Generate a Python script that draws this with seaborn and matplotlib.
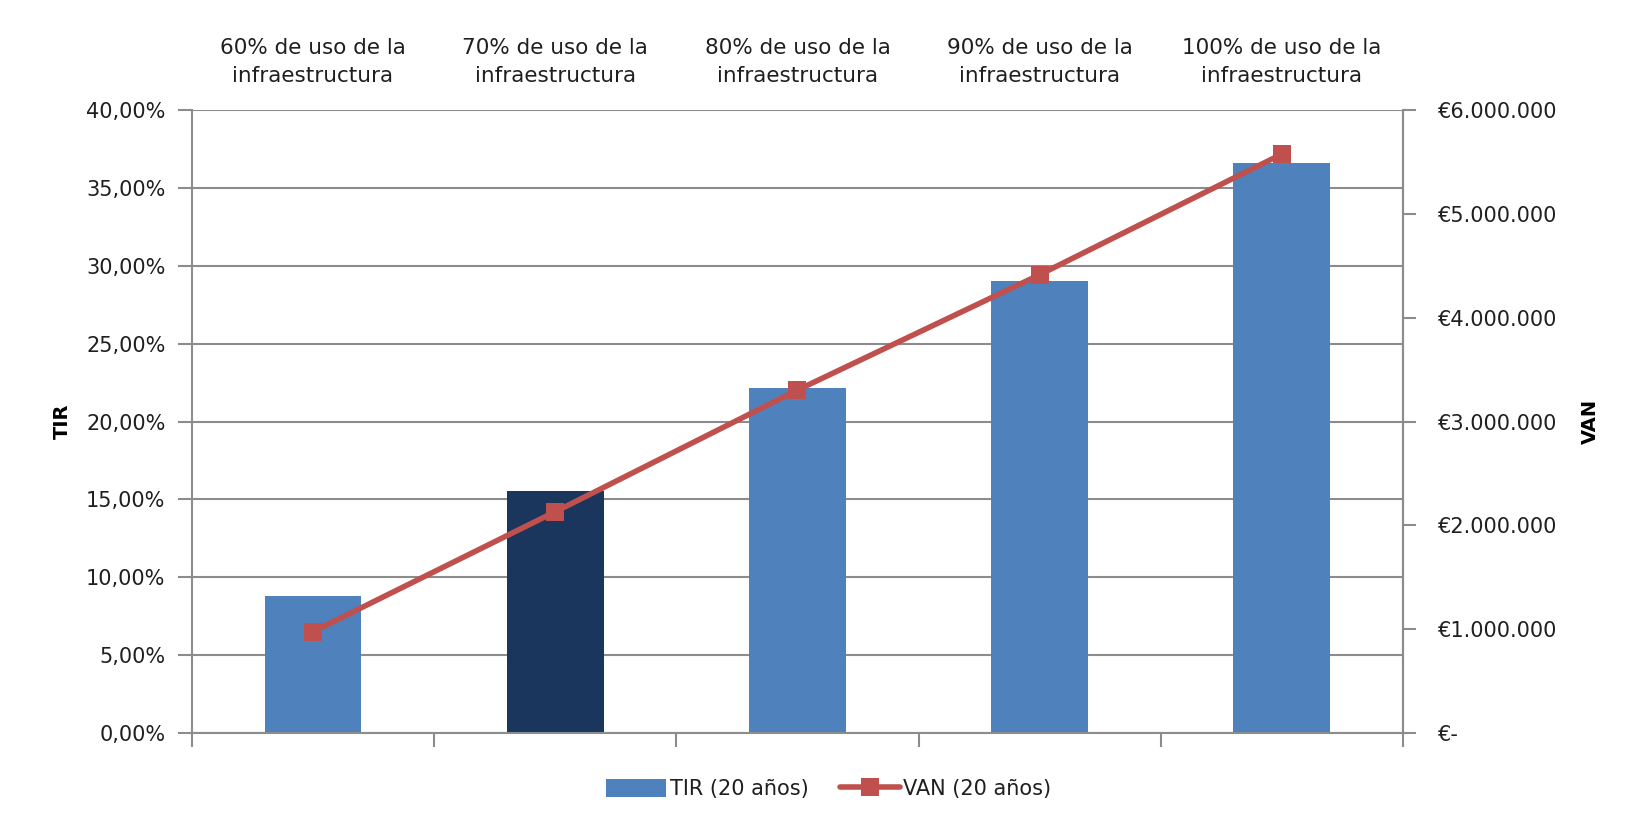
import numpy as np
import matplotlib
matplotlib.use("Agg")
import matplotlib.pyplot as plt
from matplotlib.ticker import FuncFormatter, FixedLocator
from matplotlib.lines import Line2D
from matplotlib.patches import Patch
import seaborn as sns

# Escenarios de uso de la infraestructura
categorias = [
    "60% de uso de la\ninfraestructura",
    "70% de uso de la\ninfraestructura",
    "80% de uso de la\ninfraestructura",
    "90% de uso de la\ninfraestructura",
    "100% de uso de la\ninfraestructura",
]
# TIR a 20 años (fracción)
tir = [0.0882, 0.1556, 0.2217, 0.2904, 0.3662]
# VAN a 20 años (euros)
van = [976000, 2131000, 3303000, 4414000, 5576000]

tir_ticks = [0.0, 0.05, 0.10, 0.15, 0.20, 0.25, 0.30, 0.35, 0.40]
van_ticks = [0, 1e6, 2e6, 3e6, 4e6, 5e6, 6e6]

azul = "#4F81BD"
azul_oscuro = "#1B365C"
rojo = "#C0504D"
gris = "#8C8C8C"
texto = "#1F1F1F"
fs = 15

sns.set_theme(style="white")
plt.rcParams["font.family"] = ["DejaVu Sans"]

fig = plt.figure(figsize=(16.28, 8.26), dpi=100)
ax = fig.add_axes([0.1179, 0.1126, 0.7439, 0.7542])

colores = [azul, azul_oscuro, azul, azul, azul]
sns.barplot(x=list(range(len(categorias))), y=tir, hue=list(range(len(categorias))),
            palette=colores, legend=False, width=0.4, saturation=1, ax=ax,
            linewidth=0, edgecolor="none", zorder=2)

ax.set_ylim(0, 0.40)
ax.set_xlim(-0.5, len(categorias) - 0.5)
ax.yaxis.set_major_locator(FixedLocator(tir_ticks))
ax.yaxis.set_major_formatter(FuncFormatter(lambda v, p: f"{v*100:.2f}%".replace(".", ",")))
ax.grid(axis="y", color=gris, linewidth=1.5, zorder=0)
ax.set_axisbelow(True)

# etiquetas de categoría arriba, marcas divisorias abajo
ax.set_xticks(range(len(categorias)))
ax.set_xticklabels(categorias, fontsize=15.5, color=texto, linespacing=1.5)
ax.tick_params(axis="x", which="major", bottom=False, top=False,
               labelbottom=False, labeltop=True, length=0, pad=17)
ax.set_xticks(np.arange(-0.5, len(categorias), 1.0), minor=True)
ax.tick_params(axis="x", which="minor", bottom=True, length=10, width=1.5,
               color=gris, direction="out")
ax.tick_params(axis="y", left=True, length=10, width=1.5, color=gris,
               labelsize=fs, labelcolor=texto, pad=9, direction="out")

ax.spines["top"].set_visible(False)
for s in ["left", "bottom", "right"]:
    ax.spines[s].set_color(gris)
    ax.spines[s].set_linewidth(1.5)

ax.set_xlabel("")
ax.set_ylabel("TIR", fontsize=14, fontweight="bold", color="black")
ax.yaxis.set_label_coords(-0.099, 0.5)

ax2 = ax.twinx()
sns.lineplot(x=list(range(len(categorias))), y=van, ax=ax2, color=rojo,
             linewidth=4, marker="s", markersize=13, markeredgewidth=0,
             legend=False, zorder=3)
ax2.set_ylim(0, 6e6)
ax2.yaxis.set_major_locator(FixedLocator(van_ticks))


def euros(v, p):
    if v == 0:
        return "€-"
    return "€" + f"{int(round(v)):,}".replace(",", ".")


ax2.yaxis.set_major_formatter(FuncFormatter(euros))
ax2.tick_params(axis="y", right=True, length=9, width=1.5, color=gris,
                labelsize=fs, labelcolor=texto, pad=16, direction="out")
ax2.grid(False)
for s in ["top", "left", "bottom"]:
    ax2.spines[s].set_visible(False)
ax2.spines["right"].set_color(gris)
ax2.spines["right"].set_linewidth(1.5)
ax2.set_ylabel("VAN", fontsize=14, fontweight="bold", color="black", rotation=90)
ax2.yaxis.set_label_coords(1.147, 0.5)

handles = [
    Patch(facecolor=azul, edgecolor="none", label="TIR (20 años)"),
    Line2D([0], [0], color=rojo, linewidth=4, marker="s", markersize=13,
           markeredgewidth=0, label="VAN (20 años)"),
]
fig.legend(handles=handles, loc="center", bbox_to_anchor=(0.509, 0.045), ncol=2,
           frameon=False, fontsize=fs, handlelength=2.9, handleheight=1.0,
           handletextpad=0.15, columnspacing=1.5, labelcolor=texto)

fig.savefig("out.png", dpi=100, facecolor="white")
